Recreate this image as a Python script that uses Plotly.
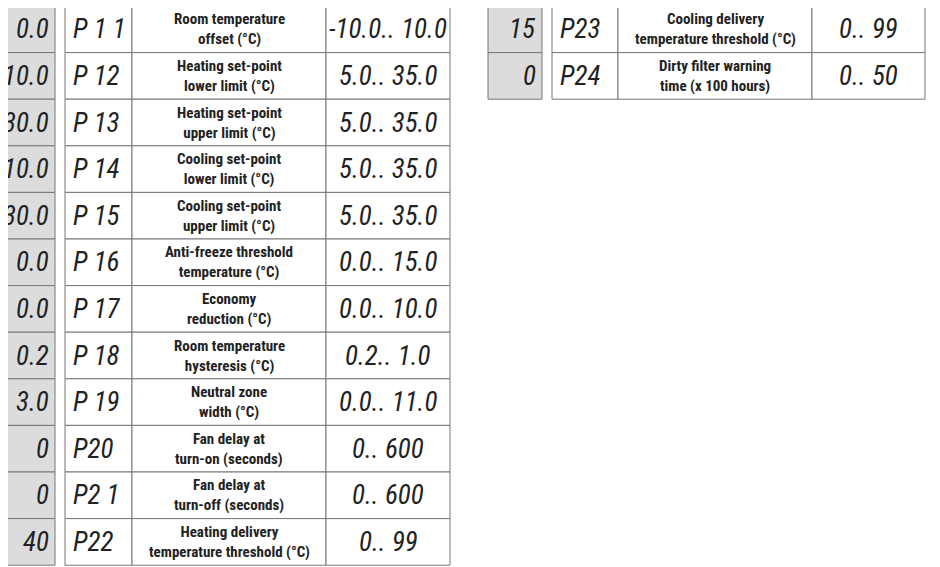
import plotly.graph_objects as go

# parameter table
values = ["0.0", "10.0", "30.0", "10.0", "30.0", "0.0", "0.0", "0.2", "3.0", "0", "0", "40", "15", "0"]
codes = ["P 1 1", "P 12", "P 13", "P 14", "P 15", "P 16", "P 17", "P 18", "P 19", "P20", "P2 1", "P22", "P23", "P24"]
descriptions = [
    "Room temperature<br>offset (°C)",
    "Heating set-point<br>lower limit (°C)",
    "Heating set-point<br>upper limit (°C)",
    "Cooling set-point<br>lower limit (°C)",
    "Cooling set-point<br>upper limit (°C)",
    "Anti-freeze threshold<br>temperature (°C)",
    "Economy<br>reduction (°C)",
    "Room temperature<br>hysteresis (°C)",
    "Neutral zone<br>width (°C)",
    "Fan delay at<br>turn-on (seconds)",
    "Fan delay at<br>turn-off (seconds)",
    "Heating delivery<br>temperature threshold (°C)",
    "Cooling delivery<br>temperature threshold (°C)",
    "Dirty filter warning<br>time (x 100 hours)",
]
ranges = ["-10.0.. 10.0", "5.0.. 35.0", "5.0.. 35.0", "5.0.. 35.0", "5.0.. 35.0", "0.0.. 15.0",
          "0.0.. 10.0", "0.2.. 1.0", "0.0.. 11.0", "0.. 600", "0.. 600", "0.. 99", "0.. 99", "0.. 50"]

# layout of the two blocks: (grey x0, x1, table column edges)
blocks = [
    dict(rows=range(0, 12), grey=(2, 55), cols=[65, 132, 326, 450]),
    dict(rows=range(12, 14), grey=(488, 542), cols=[552, 618, 812, 925]),
]
top, row_h = 6, 46.6

seg_font = dict(family="Liberation Sans Narrow, Roboto Condensed, sans-serif", size=27, color="#222")
desc_font = dict(family="Liberation Sans Narrow, Roboto Condensed, Roboto, sans-serif", size=15, color="#222", weight="bold")

fig = go.Figure()
shapes, annotations = [], []
for b in blocks:
    for k, i in enumerate(b["rows"]):
        y0 = top + k * row_h
        y1 = y0 + row_h
        ym = (y0 + y1) / 2
        gx0, gx1 = b["grey"]
        shapes.append(dict(type="rect", x0=gx0, x1=gx1, y0=y0, y1=y1,
                           fillcolor="#dcdcdc", line=dict(color="#777", width=1)))
        c = b["cols"]
        for j in range(3):
            shapes.append(dict(type="rect", x0=c[j], x1=c[j + 1], y0=y0, y1=y1,
                               fillcolor="white", line=dict(color="#777", width=1)))
        annotations.append(dict(x=gx1 - 4, y=ym, text=f"<i>{values[i]}</i>", xanchor="right",
                                showarrow=False, font=seg_font))
        annotations.append(dict(x=c[0] + 6, y=ym, text=f"<i>{codes[i]}</i>", xanchor="left",
                                showarrow=False, font=seg_font))
        annotations.append(dict(x=(c[1] + c[2]) / 2, y=ym, text=descriptions[i],
                                showarrow=False, font=desc_font))
        annotations.append(dict(x=(c[2] + c[3]) / 2, y=ym, text=f"<i>{ranges[i]}</i>",
                                showarrow=False, font=seg_font))

# page body has an 8px margin, so offset the axis ranges
fig.update_layout(
    width=940, height=567, margin=dict(l=0, r=0, t=0, b=0),
    plot_bgcolor="white", paper_bgcolor="white",
    xaxis=dict(range=[8, 948], visible=False, fixedrange=True),
    yaxis=dict(range=[575, 8], visible=False, fixedrange=True),
    shapes=shapes, annotations=annotations, showlegend=False,
)
fig.write_html("out.html")
